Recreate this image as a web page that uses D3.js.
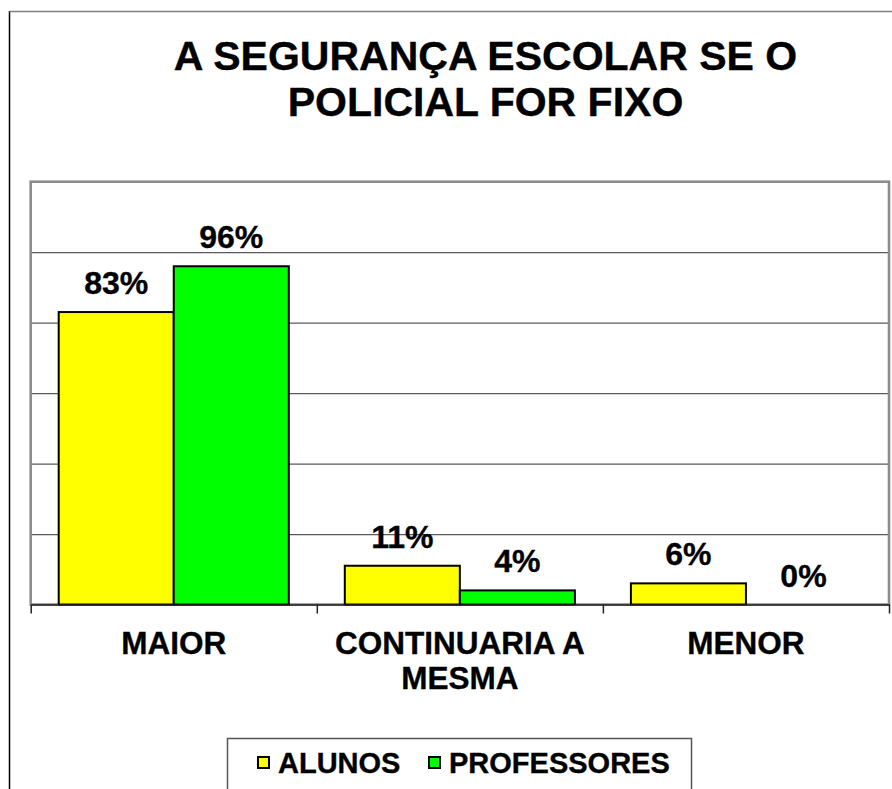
<!DOCTYPE html>
<html>
<head>
<meta charset="utf-8">
<script src="https://cdn.jsdelivr.net/npm/d3@7"></script>
<style>
  body { margin: 0; background: #fff; }
  text { font-family: Arial, "Liberation Sans", sans-serif; font-weight: bold; fill: #000; stroke: #000; stroke-width: 0.35px; }
</style>
</head>
<body>
<div class="chart"></div>
<script>
// chart data
const titleLines = ["A SEGURANÇA ESCOLAR SE O", "POLICIAL FOR FIXO"];
const categories = ["MAIOR", "CONTINUARIA A MESMA", "MENOR"];
const seriesNames = ["ALUNOS", "PROFESSORES"];
const alunos = [0.83, 0.11, 0.06];
const professores = [0.96, 0.04, 0.00];
const seriesColors = ["#ffff00", "#00ff00"];
const gridTicks = [0, 0.2, 0.4, 0.6, 0.8, 1.0, 1.2];

const W = 892, H = 789;
const plot = {left: 30.7, top: 181.7, right: 889, bottom: 604.5};

const svg = d3.select(".chart")
    .append("svg")
    .attr("width", W)
    .attr("height", H);

// outer chart frame (runs off the page right and bottom)
svg.append("line")
    .attr("x1", 9.5).attr("x2", 9.5)
    .attr("y1", 11).attr("y2", H)
    .attr("stroke", "#000").attr("stroke-width", 1.5);
svg.append("line")
    .attr("x1", 9.5).attr("x2", W)
    .attr("y1", 11.5).attr("y2", 11.5)
    .attr("stroke", "#808080").attr("stroke-width", 1.5);

// title
svg.append("text")
    .attr("x", 485.5)
    .attr("text-anchor", "middle")
    .style("font-size", "41px")
    .selectAll("tspan")
    .data(titleLines)
    .enter().append("tspan")
    .attr("x", 485.5)
    .attr("y", (d, i) => 70 + i * 46)
    .text(d => d);

// scales
const x0 = d3.scaleBand()
    .domain(categories)
    .range([plot.left, plot.right])
    .padding(0);

const x1 = d3.scaleBand()
    .domain(seriesNames)
    .range([28, x0.bandwidth() - 28]);

const y = d3.scaleLinear()
    .domain([0, 1.2])
    .range([plot.bottom, plot.top]);

// plot area background
svg.append("rect")
    .attr("x", plot.left)
    .attr("y", plot.top)
    .attr("width", plot.right - plot.left)
    .attr("height", plot.bottom - plot.top)
    .attr("fill", "#fff");

// gridlines
const grid = svg.append("g")
    .attr("class", "grid")
    .attr("transform", `translate(${plot.left},0)`)
    .call(d3.axisLeft(y)
        .tickValues(gridTicks.slice(1, -1))
        .tickSize(-(plot.right - plot.left))
        .tickFormat(""));
grid.select(".domain").remove();
grid.selectAll("line").attr("stroke", "#5a5a5a").attr("stroke-width", 1.2);

// plot border
svg.append("rect")
    .attr("x", plot.left)
    .attr("y", plot.top)
    .attr("width", plot.right - plot.left)
    .attr("height", plot.bottom - plot.top)
    .attr("fill", "none")
    .attr("stroke", "#8c8c8c")
    .attr("stroke-width", 2.6);

// bars
const rows = categories.map((c, i) => ({
    category: c,
    values: [alunos[i], professores[i]]
}));

const groups = svg.selectAll(".cat")
    .data(rows)
    .enter().append("g")
    .attr("class", "cat")
    .attr("transform", d => `translate(${x0(d.category)},0)`);

groups.selectAll("rect")
    .data(d => d.values.map((v, j) => ({name: seriesNames[j], value: v, j: j})))
    .enter().append("rect")
    .attr("x", d => x1(d.name))
    .attr("y", d => y(d.value))
    .attr("width", x1.bandwidth())
    .attr("height", d => y(0) - y(d.value))
    .attr("fill", d => seriesColors[d.j])
    .attr("stroke", "#000")
    .attr("stroke-width", 2);

groups.selectAll(".val")
    .data(d => d.values.map((v, j) => ({name: seriesNames[j], value: v})))
    .enter().append("text")
    .attr("class", "val")
    .attr("x", d => x1(d.name) + x1.bandwidth() / 2)
    .attr("y", d => y(d.value) - 18)
    .attr("text-anchor", "middle")
    .style("font-size", "32px")
    .text(d => d3.format(".0%")(d.value));

// x axis: ticks at category boundaries
const edge = d3.scaleLinear().domain([0, categories.length]).range([plot.left, plot.right]);
const xAxis = svg.append("g")
    .attr("transform", `translate(0,${plot.bottom})`)
    .call(d3.axisBottom(edge)
        .tickValues(d3.range(categories.length + 1))
        .tickSize(9)
        .tickSizeOuter(0)
        .tickFormat(""));
xAxis.selectAll("line, path").attr("stroke", "#222").attr("stroke-width", 1.5);

// category labels, wrapped to the band width
const catLabels = svg.selectAll(".catlabel")
    .data(categories)
    .enter().append("text")
    .attr("class", "catlabel")
    .attr("text-anchor", "middle")
    .style("font-size", "31.5px")
    .attr("x", d => x0(d) + x0.bandwidth() / 2)
    .attr("y", 654);

catLabels.each(function(d) {
    const el = d3.select(this);
    const cx = +el.attr("x");
    const words = d.split(" ");
    let line = [];
    let tspan = el.append("tspan").attr("x", cx).attr("dy", 0);
    words.forEach(w => {
        line.push(w);
        tspan.text(line.join(" "));
        if (tspan.node().getComputedTextLength() > x0.bandwidth() - 10 && line.length > 1) {
            line.pop();
            tspan.text(line.join(" "));
            line = [w];
            tspan = el.append("tspan").attr("x", cx).attr("dy", 35).text(w);
        }
    });
});

// legend
svg.append("rect")
    .attr("x", 227.5)
    .attr("y", 738.5)
    .attr("width", 464)
    .attr("height", 80)
    .attr("fill", "#fff")
    .attr("stroke", "#555")
    .attr("stroke-width", 1.5);

const legendX = [258, 429];
const legend = svg.selectAll(".legend")
    .data(seriesNames)
    .enter().append("g")
    .attr("class", "legend")
    .attr("transform", (d, i) => `translate(${legendX[i]},757)`);

legend.append("rect")
    .attr("width", 11)
    .attr("height", 11)
    .attr("fill", (d, i) => seriesColors[i])
    .attr("stroke", "#000")
    .attr("stroke-width", 2);

legend.append("text")
    .attr("x", 20)
    .attr("y", 16)
    .style("font-size", "29px")
    .text(d => d);
</script>
</body>
</html>
